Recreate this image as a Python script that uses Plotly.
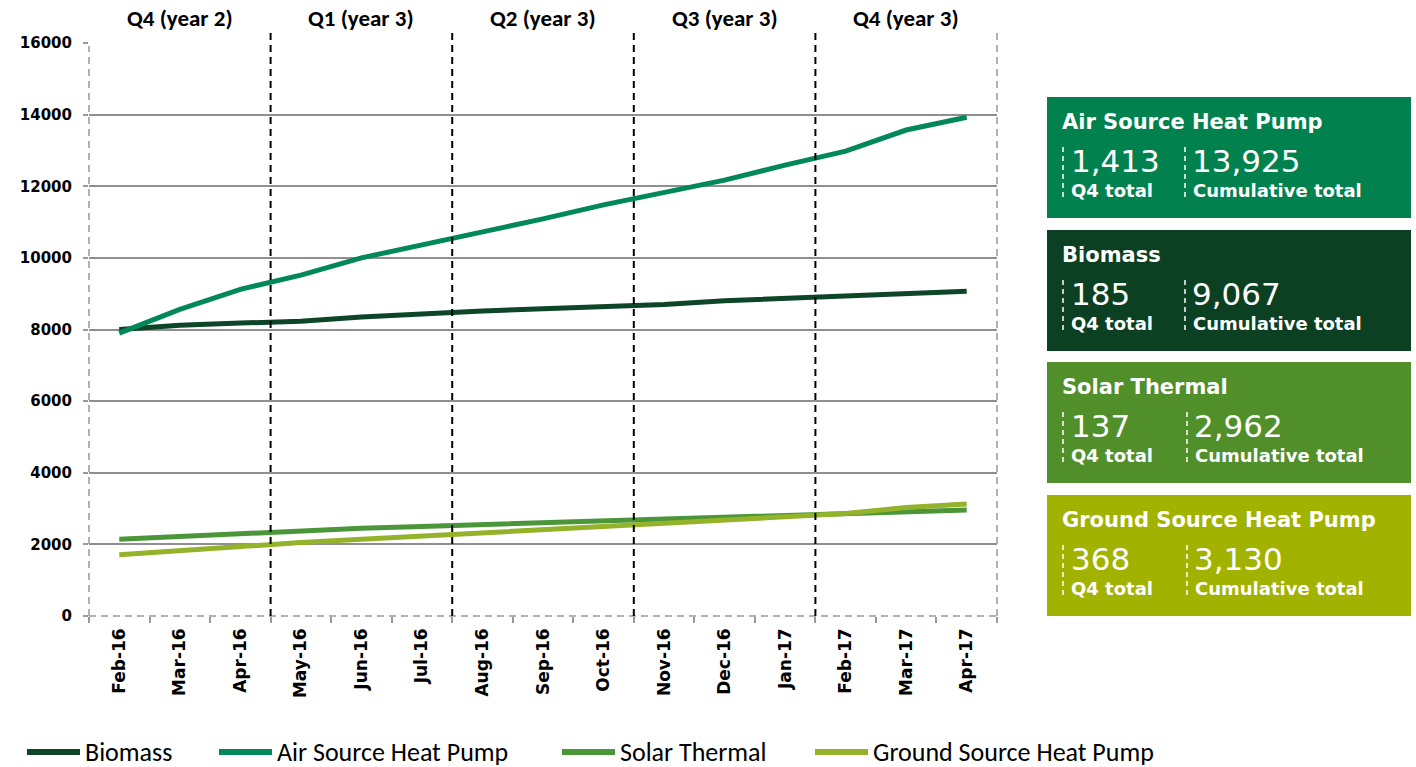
import plotly.graph_objects as go

# ---------------- data ----------------
months = ["Feb-16", "Mar-16", "Apr-16", "May-16", "Jun-16", "Jul-16", "Aug-16",
          "Sep-16", "Oct-16", "Nov-16", "Dec-16", "Jan-17", "Feb-17", "Mar-17", "Apr-17"]

biomass = [8000, 8120, 8180, 8230, 8350, 8450, 8520, 8580, 8640, 8700, 8800, 8870, 8920, 9010, 9067]
ashp = [7900, 8560, 9120, 9520, 10000, 10360, 10750, 11090, 11480, 11840, 12170, 12590, 12980, 13570, 13925]
solar = [2140, 2220, 2310, 2380, 2450, 2500, 2550, 2600, 2660, 2720, 2760, 2820, 2860, 2910, 2962]
gshp = [1710, 1830, 1950, 2050, 2140, 2230, 2310, 2400, 2490, 2580, 2650, 2760, 2860, 3030, 3130]

series_names = ["Biomass", "Air Source Heat Pump", "Solar Thermal", "Ground Source Heat Pump"]
series_values = [biomass, ashp, solar, gshp]
series_colors = ["#0c4527", "#00875a", "#4b9638", "#94b32a"]

quarters = ["Q4 (year 2)", "Q1 (year 3)", "Q2 (year 3)", "Q3 (year 3)", "Q4 (year 3)"]

panel_names = ["Air Source Heat Pump", "Biomass", "Solar Thermal", "Ground Source Heat Pump"]
panel_q4 = [1413, 185, 137, 368]
panel_cum = [13925, 9067, 2962, 3130]
panel_colors = ["#00814e", "#0b4023", "#518f2a", "#a2b200"]

# ---------------- layout helpers ----------------
W, H = 1416, 767
L, R, T, B = 89, 997, 43, 616


def px(x):
    return (x - L) / (R - L)


def py(y):
    return (B - y) / (B - T)


AXIS_FONT = "DejaVu Sans, Verdana, sans-serif"
CAL_FONT = "Carlito, Calibri, Liberation Sans Narrow, Open Sans, sans-serif"
GRAY = "#999999"

fig = go.Figure()
for name, vals, col in zip(series_names, series_values, series_colors):
    fig.add_trace(go.Scatter(x=months, y=vals, name=name, mode="lines",
                             line=dict(color=col, width=5), showlegend=False))

shapes = []
annotations = []

# borders (dashed gray)
shapes.append(dict(type="line", xref="paper", yref="paper", x0=0, x1=0, y0=0, y1=py(46),
                   line=dict(color=GRAY, width=1.5, dash="7px,5px")))
shapes.append(dict(type="line", xref="paper", yref="paper", x0=1, x1=1, y0=0, y1=py(32),
                   line=dict(color=GRAY, width=1.5, dash="7px,5px")))
shapes.append(dict(type="line", xref="paper", yref="paper", x0=0, x1=1, y0=0, y1=0,
                   line=dict(color=GRAY, width=1.5, dash="7px,5px")))

# quarter dividers & headers
for i, q in enumerate(quarters):
    if i > 0:
        shapes.append(dict(type="line", xref="x", yref="paper", x0=3 * i - 0.5, x1=3 * i - 0.5,
                           y0=0, y1=py(32), line=dict(color="black", width=2, dash="7px,5px")))
    annotations.append(dict(xref="x", yref="paper", x=3 * i + 1, y=py(18), text="<b>%s</b>" % q,
                            showarrow=False, xanchor="center", yanchor="middle",
                            font=dict(family=CAL_FONT, size=23, color="black")))

# panels
for k, (nm, q4, cum, col) in enumerate(zip(panel_names, panel_q4, panel_cum, panel_colors)):
    top = [97, 230, 362, 495][k]
    shapes.append(dict(type="rect", xref="paper", yref="paper", x0=px(1047), x1=px(1411),
                       y0=py(top + 121), y1=py(top), fillcolor=col, line=dict(width=0), layer="above"))
    annotations.append(dict(xref="paper", yref="paper", x=px(1060), y=py(top + 25), text="<b>%s</b>" % nm,
                            showarrow=False, xanchor="left", yanchor="middle",
                            font=dict(family=AXIS_FONT, size=21, color="white")))
    c2 = 1185 if k < 2 else 1187
    for xx in (1063, c2):
        shapes.append(dict(type="line", xref="paper", yref="paper", x0=px(xx), x1=px(xx),
                           y0=py(top + 100), y1=py(top + 48),
                           line=dict(color="white", width=1.5, dash="5px,4px"), layer="above"))
    annotations.append(dict(xref="paper", yref="paper", x=px(1069), y=py(top + 64), text=f"{q4:,}",
                            showarrow=False, xanchor="left", yanchor="middle",
                            font=dict(family=AXIS_FONT, size=31, color="white")))
    annotations.append(dict(xref="paper", yref="paper", x=px(c2 + 5), y=py(top + 64), text=f"{cum:,}",
                            showarrow=False, xanchor="left", yanchor="middle",
                            font=dict(family=AXIS_FONT, size=31, color="white")))
    annotations.append(dict(xref="paper", yref="paper", x=px(1069), y=py(top + 93), text="<b>Q4 total</b>",
                            showarrow=False, xanchor="left", yanchor="middle",
                            font=dict(family=AXIS_FONT, size=18, color="white")))
    annotations.append(dict(xref="paper", yref="paper", x=px(c2 + 6), y=py(top + 93),
                            text="<b>Cumulative total</b>",
                            showarrow=False, xanchor="left", yanchor="middle",
                            font=dict(family=AXIS_FONT, size=18, color="white")))

# custom legend
leg_x = [27, 219, 562, 815]
for nm, col, lx in zip(series_names, series_colors, leg_x):
    shapes.append(dict(type="line", xref="paper", yref="paper", x0=px(lx), x1=px(lx + 53),
                       y0=py(752), y1=py(752), line=dict(color=col, width=6)))
    annotations.append(dict(xref="paper", yref="paper", x=px(lx + 56), y=py(752), text=nm,
                            showarrow=False, xanchor="left", yanchor="middle",
                            font=dict(family=CAL_FONT, size=26, color="black")))

fig.update_layout(
    width=W, height=H,
    margin=dict(l=L, r=W - R, t=T, b=H - B, pad=0),
    paper_bgcolor="white", plot_bgcolor="white",
    showlegend=False,
    shapes=shapes, annotations=annotations,
    xaxis=dict(type="category", range=[-0.5, len(months) - 0.5], tickangle=-90,
               tickson="boundaries", ticks="outside", ticklen=6, tickcolor=GRAY, tickwidth=1.5,
               showgrid=False, showline=False, zeroline=False, ticklabelstandoff=8,
               tickfont=dict(family=AXIS_FONT, size=17, color="black", weight="bold")),
    yaxis=dict(range=[0, 16000], dtick=2000, tickformat="d", ticks="outside", ticklen=5,
               tickcolor=GRAY, tickwidth=1.5, showgrid=True, gridcolor="#8f8f8f", gridwidth=2,
               zeroline=True, zerolinecolor="rgba(0,0,0,0)", showline=False,
               ticklabelstandoff=8,
               tickfont=dict(family=AXIS_FONT, size=15, color="black", weight="bold")),
)

fig.write_html("out.html", config={"displayModeBar": False},
               post_script="document.body.style.margin='0';document.body.style.overflow='hidden';")
